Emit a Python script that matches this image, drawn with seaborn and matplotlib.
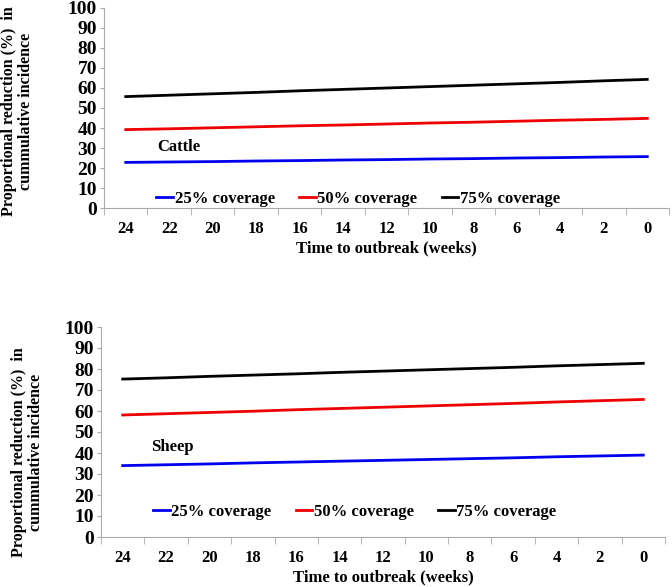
import seaborn as sns
import matplotlib.pyplot as plt
import pandas as pd
import numpy as np

weeks = [24, 22, 20, 18, 16, 14, 12, 10, 8, 6, 4, 2, 0]
coverage = ["25% coverage", "50% coverage", "75% coverage"]
colors = ["#0000ee", "#ee0000", "#000000"]

cattle_25 = [22.8, 23.0, 23.2, 23.5, 23.7, 24.0, 24.2, 24.5, 24.7, 25.0, 25.2, 25.5, 25.7]
cattle_50 = [39.2, 39.6, 40.1, 40.6, 41.1, 41.5, 42.0, 42.5, 42.9, 43.4, 43.9, 44.3, 44.8]
cattle_75 = [55.7, 56.4, 57.1, 57.8, 58.6, 59.3, 60.0, 60.7, 61.4, 62.1, 62.8, 63.6, 64.3]

sheep_25 = [34.0, 34.4, 34.8, 35.3, 35.7, 36.1, 36.5, 36.9, 37.3, 37.7, 38.2, 38.6, 39.0]
sheep_50 = [58.1, 58.7, 59.3, 59.9, 60.6, 61.2, 61.8, 62.4, 63.0, 63.6, 64.3, 64.9, 65.5]
sheep_75 = [75.2, 75.8, 76.5, 77.1, 77.7, 78.4, 79.0, 79.6, 80.2, 80.8, 81.5, 82.1, 82.7]

plt.rcParams['font.family'] = ['Liberation Serif', 'DejaVu Serif']
plt.rcParams['font.weight'] = 'bold'

def make_df(series):
    rows = []
    for name, vals in zip(coverage, series):
        for i, v in enumerate(vals):
            rows.append({"pos": i, "week": weeks[i], "cov": name, "val": v})
    return pd.DataFrame(rows)

fig = plt.figure(figsize=(6.72, 5.87), dpi=100)
ax1 = fig.add_axes([104 / 672, 1 - 208 / 587, 565 / 672, 200 / 587])
ax2 = fig.add_axes([101 / 672, 1 - 537 / 587, 564 / 672, 210 / 587])

# (axes, series, animal label, label x, label y, ylabel coords, legend y)
panels = [(ax1, [cattle_25, cattle_50, cattle_75], "Cattle", 0.72, 30.6, (-0.124, 0.485), -0.07),
          (ax2, [sheep_25, sheep_50, sheep_75], "Sheep", 0.65, 42.9, (-0.101, 0.405), 0.01)]

for ax, series, animal, tx, ty, lab_xy, leg_y in panels:
    df = make_df(series)
    sns.lineplot(data=df, x="pos", y="val", hue="cov", palette=colors,
                 linewidth=2, ax=ax)
    ax.set_xlim(-0.5, 12.5)
    ax.set_ylim(0, 100)
    ax.set_yticks(range(0, 101, 10))
    ax.set_xticks(range(13))
    ax.set_xticklabels(weeks)
    ax.set_xticks(np.arange(-0.5, 13, 1), minor=True)
    ax.tick_params(axis="x", which="major", length=0, pad=9, labelsize=12)
    ax.tick_params(axis="x", which="minor", length=5, color="#aaaaaa")
    ax.tick_params(axis="y", length=3, color="#aaaaaa", labelsize=14, pad=2)
    for s in ["top", "right"]:
        ax.spines[s].set_visible(False)
    for s in ["left", "bottom"]:
        ax.spines[s].set_color("#aaaaaa")
    ax.set_xlabel("Time to outbreak (weeks)", fontsize=12, fontweight="bold", labelpad=3)
    ax.set_ylabel("Proportional reduction (%)  in\ncummulative incidence",
                  fontsize=11.5, fontweight="bold", linespacing=1.1)
    ax.yaxis.set_label_coords(*lab_xy)
    ax.text(tx, ty, animal, fontsize=12, fontweight="bold", va="center")
    ax.legend(loc="lower center", bbox_to_anchor=(0.45, leg_y), ncol=3,
              frameon=False, fontsize=12, handlelength=1.0, handletextpad=0.1,
              columnspacing=1.45)

fig.savefig("out.png", dpi=100)
